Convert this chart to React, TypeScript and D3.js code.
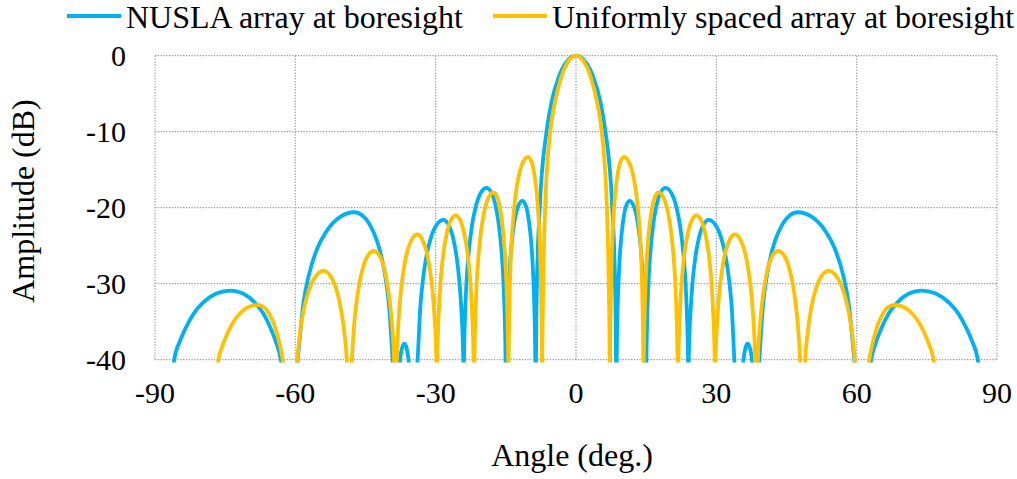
import React from 'react';
import * as d3 from 'd3';

const xTicks = [-90, -60, -30, 0, 30, 60, 90];
const yTicks = [0, -10, -20, -30, -40];
const seriesNames = ['NUSLA array at boresight', 'Uniformly spaced array at boresight'];
const seriesColors = ['#00B0F0', '#FFC000'];

// [angle (deg), amplitude (dB)]; values of -50 are off-chart null points
const nuslaPoints: [number, number][] = [
  [-86.5, -50], [-85.9, -40], [-84.7, -37.6], [-83.5, -35.9], [-81.7, -33.9], [-79.9, -32.6], [-76.9, -31.3], [-73.9, -30.9], [-71.2, -31.3], [-68.5, -32.6], [-66.88, -33.9], [-65.26, -35.9], [-64.18, -37.6], [-63.1, -40],
  [-61.3, -50],
  [-59.5, -40], [-58.29, -32.6], [-57.08, -28.8], [-55.27, -25.3], [-53.45, -23.2], [-50.43, -21.2], [-47.4, -20.6], [-45.35, -21.2], [-43.3, -23.2], [-42.07, -25.3], [-40.84, -28.8], [-40.02, -32.6], [-39.2, -40],
  [-38.4, -50],
  [-37.6, -40], [-37.15, -38.4], [-36.7, -37.9], [-36.25, -38.4], [-35.8, -40],
  [-34.8, -50],
  [-33.85, -40], [-33.3, -33.2], [-32.75, -29.6], [-31.93, -26.2], [-31.1, -24.1], [-29.73, -22.2], [-28.35, -21.6], [-27.29, -22.2], [-26.23, -24.1], [-25.59, -26.2], [-24.95, -29.6], [-24.53, -33.2], [-24.1, -40],
  [-24.03, -50],
  [-23.95, -40], [-23.47, -30.5], [-22.98, -26.2], [-22.25, -22.4], [-21.53, -20.1], [-20.31, -18.0], [-19.1, -17.4], [-18.09, -18.0], [-17.08, -20.1], [-16.47, -22.4], [-15.86, -26.2], [-15.46, -30.5], [-15.05, -40],
  [-14.93, -50],
  [-14.8, -40], [-14.47, -31.6], [-14.13, -27.6], [-13.63, -24.0], [-13.13, -21.7], [-12.29, -19.7], [-11.45, -19.1], [-10.76, -19.7], [-10.08, -21.7], [-9.66, -24.0], [-9.25, -27.6], [-8.98, -31.6], [-8.7, -40],
  [-8.62, -50],
  [-8.55, -40], [-8.35, -30], [-7.75, -20], [-6.3, -10], [-5.2, -6], [-3.8, -3], [-2.25, -1],
  [0, 0],
  [2.25, -1], [3.8, -3], [5.2, -6], [6.3, -10], [7.75, -20], [8.35, -30], [8.55, -40],
  [8.62, -50],
  [8.7, -40], [8.98, -31.6], [9.25, -27.6], [9.66, -24.0], [10.08, -21.7], [10.76, -19.7], [11.45, -19.1], [12.29, -19.7], [13.13, -21.7], [13.63, -24.0], [14.13, -27.6], [14.47, -31.6], [14.8, -40],
  [14.93, -50],
  [15.05, -40], [15.46, -30.5], [15.86, -26.2], [16.47, -22.4], [17.08, -20.1], [18.09, -18.0], [19.1, -17.4], [20.31, -18.0], [21.53, -20.1], [22.25, -22.4], [22.98, -26.2], [23.47, -30.5], [23.95, -40],
  [24.03, -50],
  [24.1, -40], [24.53, -33.2], [24.95, -29.6], [25.59, -26.2], [26.23, -24.1], [27.29, -22.2], [28.35, -21.6], [29.73, -22.2], [31.1, -24.1], [31.93, -26.2], [32.75, -29.6], [33.3, -33.2], [33.85, -40],
  [34.8, -50],
  [35.8, -40], [36.25, -38.4], [36.7, -37.9], [37.15, -38.4], [37.6, -40],
  [38.4, -50],
  [39.2, -40], [40.02, -32.6], [40.84, -28.8], [42.07, -25.3], [43.3, -23.2], [45.35, -21.2], [47.4, -20.6], [50.43, -21.2], [53.45, -23.2], [55.27, -25.3], [57.08, -28.8], [58.29, -32.6], [59.5, -40],
  [61.3, -50],
  [63.1, -40], [64.18, -37.6], [65.26, -35.9], [66.88, -33.9], [68.5, -32.6], [71.2, -31.3], [73.9, -30.9], [76.9, -31.3], [79.9, -32.6], [81.7, -33.9], [83.5, -35.9], [84.7, -37.6], [85.9, -40],
  [86.5, -50],
];

const uniformPoints: [number, number][] = [
  [-77.0, -50], [-76.45, -40], [-75.61, -38.25], [-74.77, -36.9], [-73.51, -35.3], [-72.25, -34.2], [-70.15, -33.1], [-68.05, -32.8], [-66.71, -33.1], [-65.38, -34.2], [-64.57, -35.3], [-63.77, -36.9], [-63.24, -38.25], [-62.7, -40],
  [-61.15, -50],
  [-59.6, -40], [-59.04, -36.6], [-58.47, -34.3], [-57.62, -31.9], [-56.78, -30.3], [-55.36, -28.8], [-53.95, -28.3], [-52.71, -28.8], [-51.48, -30.3], [-50.73, -31.9], [-49.99, -34.3], [-49.5, -36.6], [-49.0, -40],
  [-48.45, -50],
  [-47.9, -40], [-47.43, -35.4], [-46.96, -32.6], [-46.26, -29.8], [-45.55, -27.9], [-44.38, -26.2], [-43.2, -25.7], [-42.13, -26.2], [-41.05, -27.9], [-40.41, -29.8], [-39.76, -32.6], [-39.33, -35.4], [-38.9, -40],
  [-38.6, -50],
  [-38.3, -40], [-37.87, -34.3], [-37.43, -31.0], [-36.78, -27.9], [-36.13, -25.9], [-35.04, -24.1], [-33.95, -23.5], [-32.93, -24.1], [-31.9, -25.9], [-31.29, -27.9], [-30.67, -31.0], [-30.26, -34.3], [-29.85, -40],
  [-29.75, -50],
  [-29.65, -40], [-29.26, -32.9], [-28.87, -29.1], [-28.29, -25.7], [-27.7, -23.6], [-26.73, -21.6], [-25.75, -21.0], [-24.79, -21.6], [-23.83, -23.6], [-23.25, -25.7], [-22.67, -29.1], [-22.29, -32.9], [-21.9, -40],
  [-21.8, -50],
  [-21.7, -40], [-21.3, -30.9], [-20.89, -26.7], [-20.28, -22.95], [-19.68, -20.7], [-18.66, -18.6], [-17.65, -18.0], [-16.86, -18.6], [-16.08, -20.7], [-15.6, -22.95], [-15.13, -26.7], [-14.82, -30.9], [-14.5, -40],
  [-14.45, -50],
  [-14.4, -40], [-13.99, -27.4], [-13.57, -22.6], [-12.95, -18.5], [-12.33, -16.1], [-11.29, -13.95], [-10.25, -13.3], [-9.51, -13.95], [-8.78, -16.1], [-8.33, -18.5], [-7.89, -22.6], [-7.6, -27.4], [-7.3, -40],
  [-7.25, -50],
  [-7.2, -40], [-7.0, -30], [-6.6, -20], [-5.5, -10], [-4.45, -6], [-3.25, -3], [-1.9, -1],
  [0, 0],
  [1.9, -1], [3.25, -3], [4.45, -6], [5.5, -10], [6.6, -20], [7.0, -30], [7.2, -40],
  [7.25, -50],
  [7.3, -40], [7.6, -27.4], [7.89, -22.6], [8.33, -18.5], [8.78, -16.1], [9.51, -13.95], [10.25, -13.3], [11.29, -13.95], [12.33, -16.1], [12.95, -18.5], [13.57, -22.6], [13.99, -27.4], [14.4, -40],
  [14.45, -50],
  [14.5, -40], [14.82, -30.9], [15.13, -26.7], [15.6, -22.95], [16.08, -20.7], [16.86, -18.6], [17.65, -18.0], [18.66, -18.6], [19.68, -20.7], [20.28, -22.95], [20.89, -26.7], [21.3, -30.9], [21.7, -40],
  [21.8, -50],
  [21.9, -40], [22.29, -32.9], [22.67, -29.1], [23.25, -25.7], [23.83, -23.6], [24.79, -21.6], [25.75, -21.0], [26.73, -21.6], [27.7, -23.6], [28.29, -25.7], [28.87, -29.1], [29.26, -32.9], [29.65, -40],
  [29.75, -50],
  [29.85, -40], [30.26, -34.3], [30.67, -31.0], [31.29, -27.9], [31.9, -25.9], [32.93, -24.1], [33.95, -23.5], [35.04, -24.1], [36.13, -25.9], [36.78, -27.9], [37.43, -31.0], [37.87, -34.3], [38.3, -40],
  [38.6, -50],
  [38.9, -40], [39.33, -35.4], [39.76, -32.6], [40.41, -29.8], [41.05, -27.9], [42.13, -26.2], [43.2, -25.7], [44.38, -26.2], [45.55, -27.9], [46.26, -29.8], [46.96, -32.6], [47.43, -35.4], [47.9, -40],
  [48.45, -50],
  [49.0, -40], [49.5, -36.6], [49.99, -34.3], [50.73, -31.9], [51.48, -30.3], [52.71, -28.8], [53.95, -28.3], [55.36, -28.8], [56.78, -30.3], [57.62, -31.9], [58.47, -34.3], [59.04, -36.6], [59.6, -40],
  [61.15, -50],
  [62.7, -40], [63.24, -38.25], [63.77, -36.9], [64.57, -35.3], [65.38, -34.2], [66.71, -33.1], [68.05, -32.8], [70.15, -33.1], [72.25, -34.2], [73.51, -35.3], [74.77, -36.9], [75.61, -38.25], [76.45, -40],
  [77.0, -50],
];

const FONT = "'Liberation Serif', 'Times New Roman', 'DejaVu Serif', serif";

export default function App() {
  const W = 1017;
  const H = 479;
  const left = 155;
  const right = 997;
  const top = 55.7;
  const bottom = 359.7;
  const x = d3.scaleLinear().domain([-90, 90]).range([left, right]);
  const y = d3.scaleLinear().domain([-40, 0]).range([bottom, top]);
  const line = d3
    .line<[number, number]>()
    .x((d) => x(d[0]))
    .y((d) => y(d[1]))
    .curve(d3.curveMonotoneX);
  const gridStyle = { stroke: '#a0a0a0', strokeWidth: 1.2, strokeDasharray: '1.4 1.4' };
  const series = [nuslaPoints, uniformPoints];
  const legendX = [67, 493];
  const textStyle = { fontFamily: FONT };

  return (
    <svg
      width={W}
      height={H}
      viewBox={`0 0 ${W} ${H}`}
      style={{ position: 'absolute', left: 0, top: 0, background: '#fff', fontFamily: FONT }}
    >
      <defs>
        <clipPath id="plotClip">
          <rect x={left - 3} y={top - 4} width={right - left + 6} height={bottom - top + 6.8} />
        </clipPath>
      </defs>
      <rect x={0} y={0} width={W} height={H} fill="#fff" />
      {xTicks.map((t) => (
        <line key={'gx' + t} x1={x(t)} x2={x(t)} y1={top} y2={bottom} {...gridStyle} />
      ))}
      {yTicks.map((t) => (
        <line key={'gy' + t} x1={left} x2={right} y1={y(t)} y2={y(t)} {...gridStyle} />
      ))}
      <g clipPath="url(#plotClip)">
        {series.map((pts, i) => (
          <path
            key={'s' + i}
            d={line(pts) || ''}
            fill="none"
            stroke={seriesColors[i]}
            strokeWidth={3.8}
            strokeLinejoin="round"
          />
        ))}
      </g>
      {yTicks.map((t) => (
        <text key={'ly' + t} x={126} y={y(t) + 10.5} fontSize={30} textAnchor="end" fill="#000" style={textStyle}>
          {t}
        </text>
      ))}
      {xTicks.map((t) => (
        <text key={'lx' + t} x={x(t)} y={403} fontSize={30} textAnchor="middle" fill="#000" style={textStyle}>
          {t}
        </text>
      ))}
      <text x={572} y={466} fontSize={32} textAnchor="middle" fill="#000" style={textStyle}>
        Angle (deg.)
      </text>
      <text
        transform={`translate(34, 201) rotate(-90)`}
        fontSize={32}
        textAnchor="middle"
        fill="#000"
        style={textStyle}
      >
        Amplitude (dB)
      </text>
      {seriesNames.map((name, i) => (
        <g key={'lg' + i}>
          <line
            x1={legendX[i]}
            x2={legendX[i] + 54}
            y1={16}
            y2={16}
            stroke={seriesColors[i]}
            strokeWidth={4}
          />
          <text x={legendX[i] + 59} y={27.5} fontSize={32} fill="#000" style={textStyle}>
            {name}
          </text>
        </g>
      ))}
    </svg>
  );
}
